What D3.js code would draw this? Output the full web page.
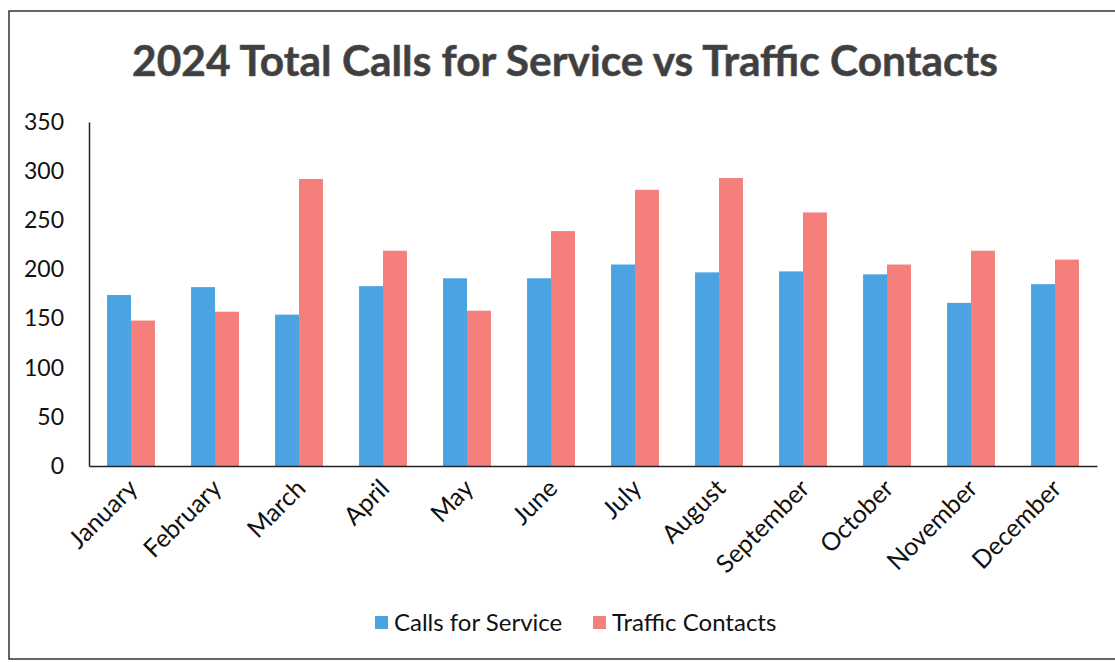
<!DOCTYPE html>
<html>
<head>
<meta charset="utf-8">
<script src="https://cdn.jsdelivr.net/npm/d3@7"></script>
<style>
  html, body { margin: 0; padding: 0; background: #fff; }
  svg { display: block; }
  text { font-family: Lato, "Open Sans", sans-serif; }
</style>
</head>
<body>
<svg id="chart" width="1115" height="662"></svg>
<script>
const months = ["January","February","March","April","May","June","July","August","September","October","November","December"];
const seriesNames = ["Calls for Service", "Traffic Contacts"];
const callsForService = [174, 182, 154, 183, 191, 191, 205, 197, 198, 195, 166, 185];
const trafficContacts = [148, 157, 292, 219, 158, 239, 281, 293, 258, 205, 219, 210];
const yTicks = [0, 50, 100, 150, 200, 250, 300, 350];
const colors = ["#4BA3E2", "#F47F7B"];
const title = "2024 Total Calls for Service vs Traffic Contacts";

const svg = d3.select("#chart");
const m = { left: 89, right: 1097, top: 122, bottom: 466 };

// outer frame
svg.append("rect")
  .attr("x", 9).attr("y", 11).attr("width", 1130).attr("height", 648)
  .attr("fill", "none").attr("stroke", "#333").attr("stroke-width", 1.5);

// title
const t = svg.append("text")
  .attr("x", 565).attr("y", 76)
  .attr("text-anchor", "middle")
  .attr("font-weight", "bold")
  .attr("font-size", 38)
  .attr("fill", "#3f3f3f")
  .attr("stroke", "#555").attr("stroke-width", 0.6)
  .text(title);
const tl = t.node().getComputedTextLength();
t.attr("font-size", 38 * 866 / tl);

const x0 = d3.scaleBand().domain(months).range([m.left, m.right]).paddingInner(0.43).paddingOuter(0.215);
const x1 = d3.scaleBand().domain(seriesNames).range([0, x0.bandwidth()]).padding(0);
const y = d3.scaleLinear().domain([0, 350]).range([m.bottom, m.top]);

const data = months.map((mo, i) => ({ month: mo, values: [callsForService[i], trafficContacts[i]] }));

const g = svg.append("g");
g.selectAll("g.grp").data(data).join("g")
  .attr("class", "grp")
  .attr("transform", d => `translate(${x0(d.month)},0)`)
  .selectAll("rect").data(d => d.values.map((v, k) => ({ name: seriesNames[k], v, k })))
  .join("rect")
  .attr("x", d => x1(d.name))
  .attr("y", d => y(d.v))
  .attr("width", x1.bandwidth())
  .attr("height", d => y(0) - y(d.v))
  .attr("fill", d => colors[d.k]);

// y axis
const yAxis = d3.axisLeft(y).tickValues(yTicks).tickSize(0).tickPadding(25);
const ya = svg.append("g").attr("transform", `translate(${m.left},0)`).call(yAxis);
ya.select(".domain").attr("stroke", "#222").attr("stroke-width", 1.5);
ya.selectAll("text").attr("font-size", 23).attr("fill", "#111").attr("font-family", "Lato, sans-serif");

// x axis
const xAxis = d3.axisBottom(x0).tickSize(0).tickPadding(0);
const xa = svg.append("g").attr("transform", `translate(0,${m.bottom})`).call(xAxis);
xa.select(".domain").attr("stroke", "#222").attr("stroke-width", 1.5);
xa.selectAll(".tick text")
  .attr("font-size", 25).attr("fill", "#111").attr("font-family", "Lato, sans-serif")
  .attr("text-anchor", "end")
  .attr("dy", 0)
  .attr("transform", "translate(8,24) rotate(-45)");

// legend
const legend = svg.append("g");
const legendItems = [{ name: seriesNames[0], x: 375 }, { name: seriesNames[1], x: 593 }];
legendItems.forEach((it, k) => {
  legend.append("rect").attr("x", it.x).attr("y", 616).attr("width", 13).attr("height", 13).attr("fill", colors[k]);
  legend.append("text").attr("x", it.x + 19).attr("y", 631)
    .attr("font-size", 24).attr("fill", "#111").text(it.name);
});
</script>
</body>
</html>
